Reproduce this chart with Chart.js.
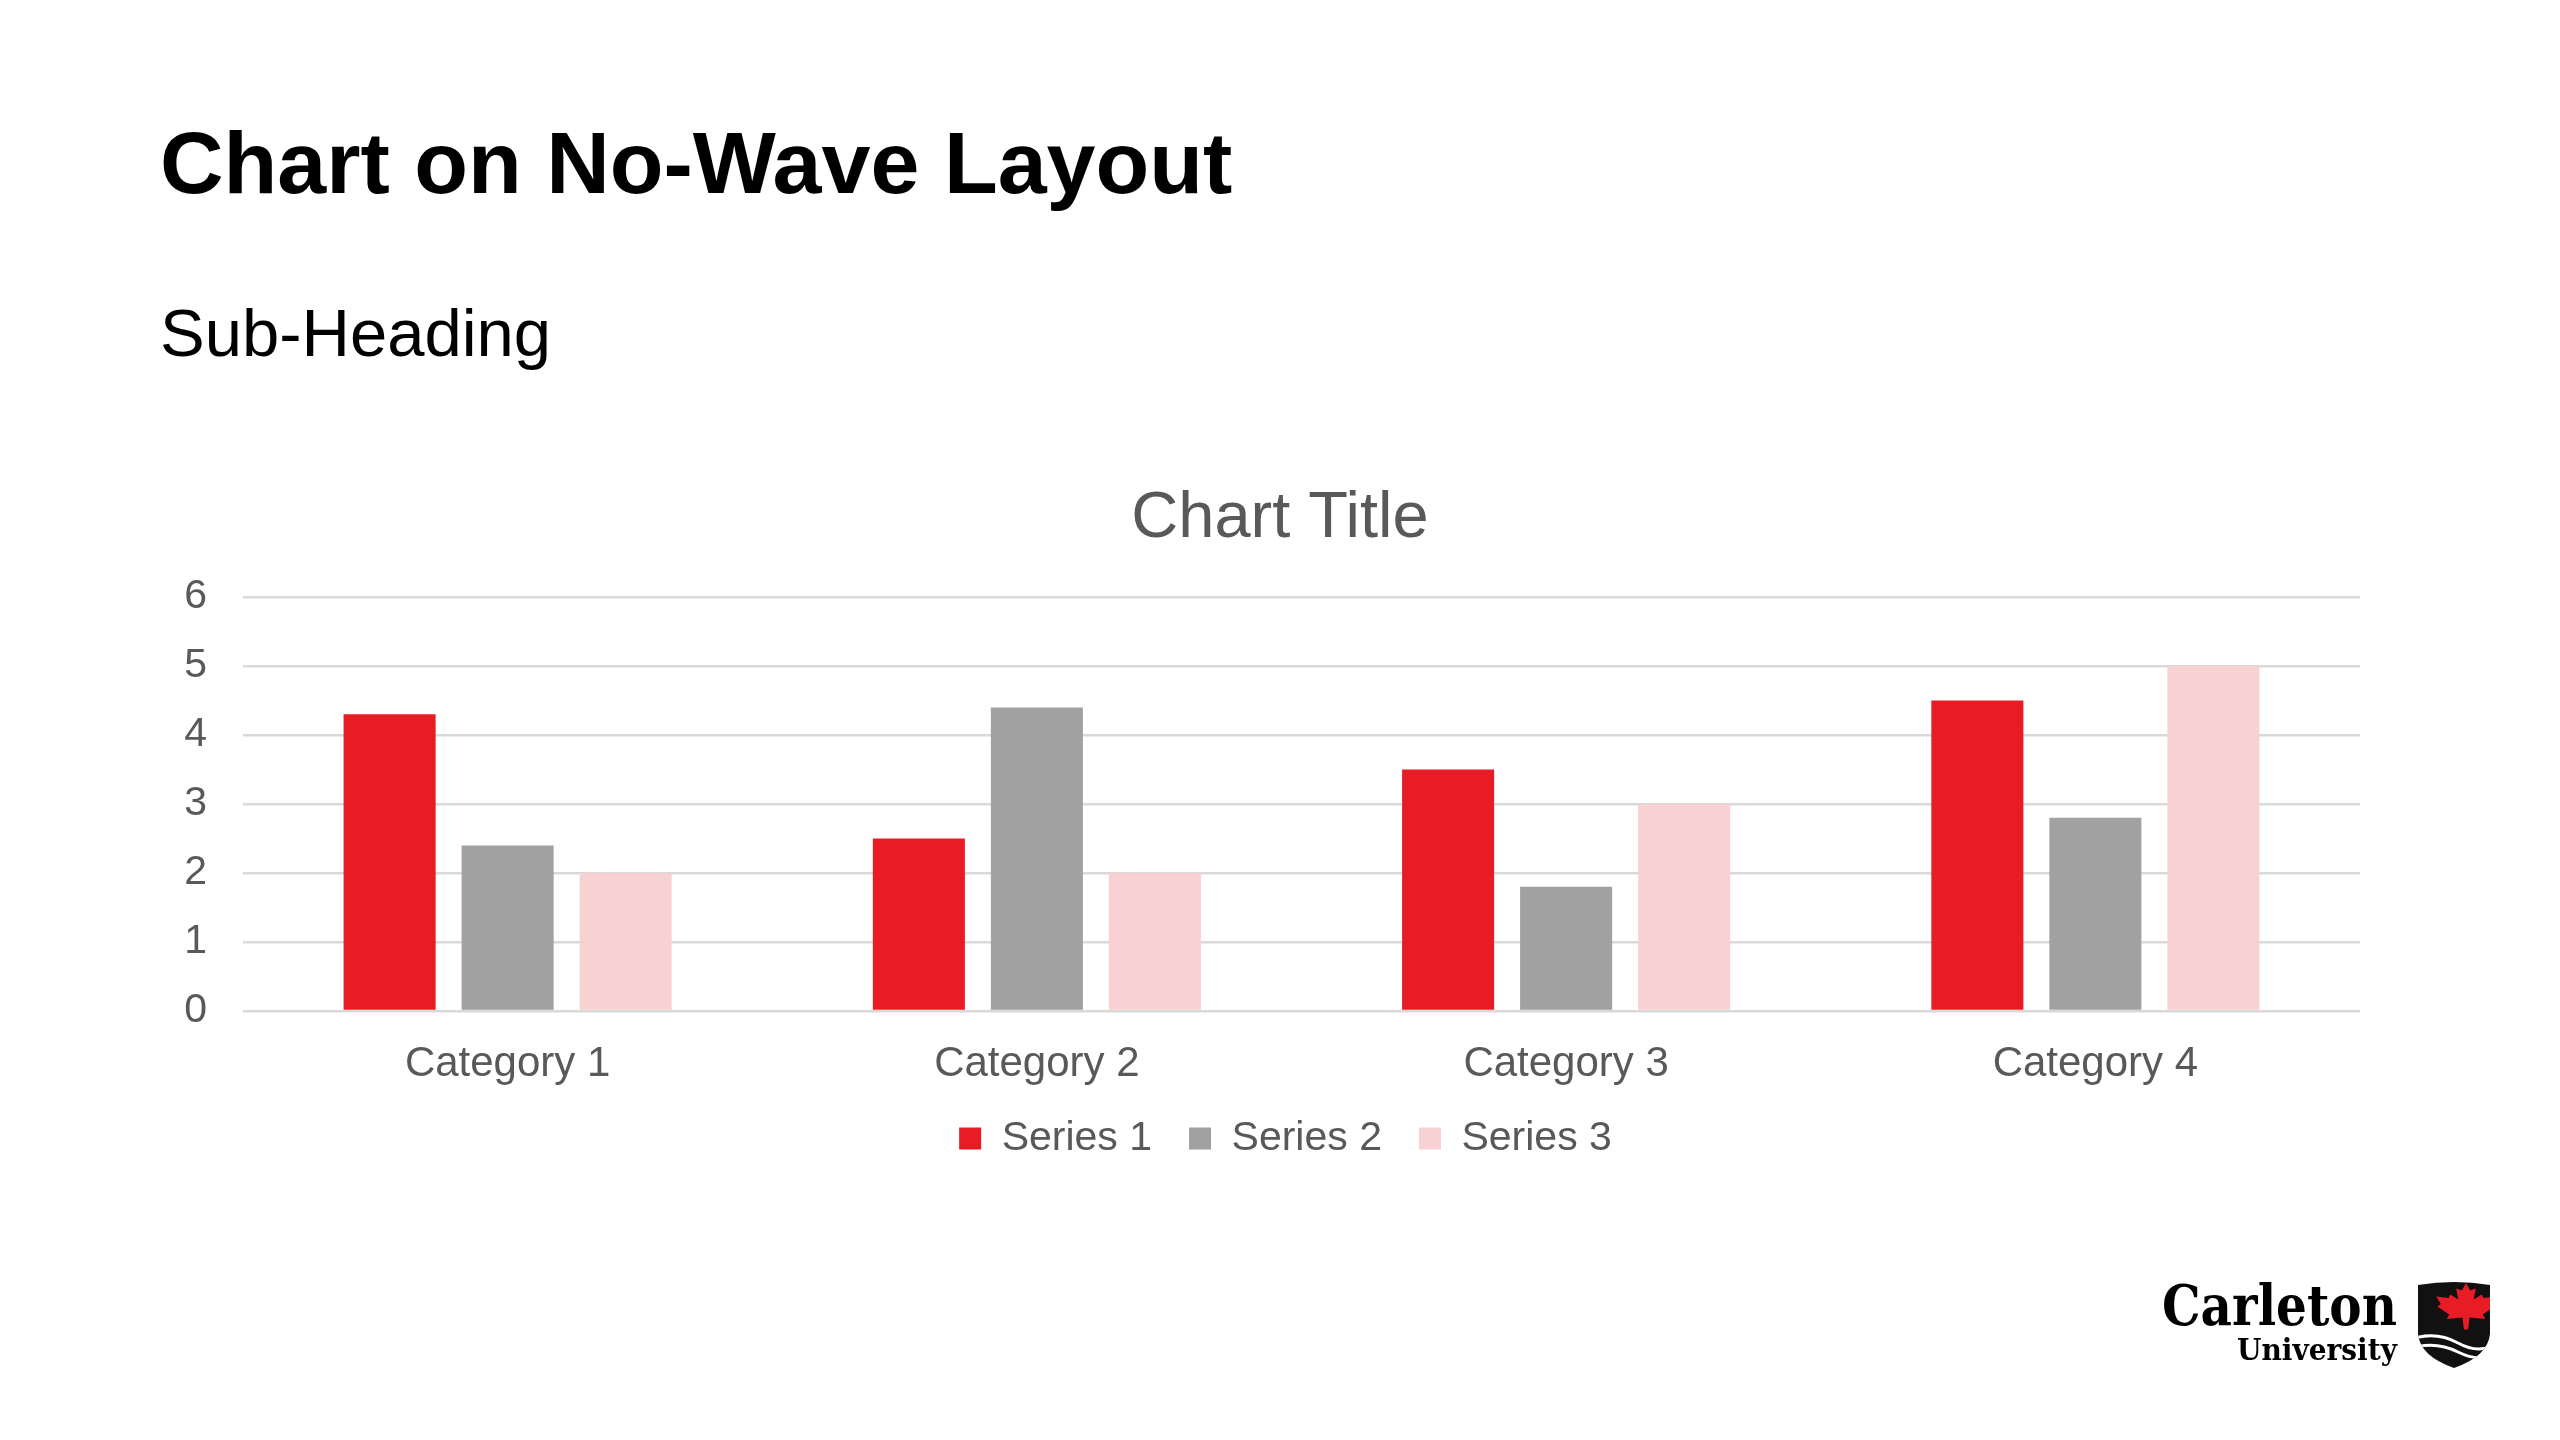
<!DOCTYPE html>
<html>
<head>
<meta charset="utf-8">
<script src="https://cdn.jsdelivr.net/npm/chart.js@4.4.1/dist/chart.umd.min.js"></script>
<style>
  html, body { margin: 0; padding: 0; background: #fff; }
  body { width: 2560px; height: 1440px; position: relative; overflow: hidden; font-family: "Liberation Sans", Arial, sans-serif; }
  .heading { position: absolute; left: 160px; top: 119px; font-size: 88px; line-height: 1; font-weight: bold; color: #000; white-space: nowrap; }
  .subheading { position: absolute; left: 160px; top: 299px; font-size: 67px; line-height: 1; color: #000; white-space: nowrap; }
  #chart { position: absolute; left: 0; top: 440px; }
  #logo { position: absolute; left: 0; top: 0; pointer-events: none; }
</style>
</head>
<body>
<div class="heading">Chart on No-Wave Layout</div>
<div class="subheading">Sub-Heading</div>
<canvas id="chart" width="2560" height="739"></canvas>

<svg id="logo" width="2560" height="1440" viewBox="0 0 2560 1440">
  <text x="2162" y="1325" font-family="DejaVu Serif" font-weight="bold" font-size="56" textLength="235" lengthAdjust="spacingAndGlyphs" fill="#000">Carleton</text>
  <text x="2237" y="1360" font-family="DejaVu Serif" font-weight="bold" font-size="29" textLength="160" lengthAdjust="spacingAndGlyphs" fill="#000">University</text>
  <defs>
    <clipPath id="shieldClip">
      <path d="M2418,1285 Q2454,1279 2490,1285 L2490,1334 Q2488,1356 2454,1368 Q2420,1356 2418,1334 Z"/>
    </clipPath>
  </defs>
  <path d="M2418,1285 Q2454,1279 2490,1285 L2490,1334 Q2488,1356 2454,1368 Q2420,1356 2418,1334 Z" fill="#111"/>
  <g clip-path="url(#shieldClip)">
    <polygon fill="#e81c24" transform="translate(2466,1313) scale(35,30)"
      points="0,-1 0.12,-0.75 0.28,-0.82 0.22,-0.45 0.45,-0.62 0.5,-0.5 0.85,-0.55 0.72,-0.3 0.82,-0.22 0.48,0.05 0.55,0.2 0.1,0.15 0.06,0.55 -0.06,0.55 -0.1,0.15 -0.55,0.2 -0.48,0.05 -0.82,-0.22 -0.72,-0.3 -0.85,-0.55 -0.5,-0.5 -0.45,-0.62 -0.22,-0.45 -0.28,-0.82 -0.12,-0.75"/>
    <path d="M2412,1339 Q2436,1331 2458,1343 T2496,1343" stroke="#fff" stroke-width="3" fill="none"/>
    <path d="M2412,1348 Q2436,1341 2458,1352 T2496,1353" stroke="#fff" stroke-width="3" fill="none"/>
  </g>
</svg>

<script>
// chart values
const categories = ["Category 1", "Category 2", "Category 3", "Category 4"];
const seriesNames = ["Series 1", "Series 2", "Series 3"];
const series1 = [4.3, 2.5, 3.5, 4.5];
const series2 = [2.4, 4.4, 1.8, 2.8];
const series3 = [2, 2, 3, 5];
const yTicks = [0, 1, 2, 3, 4, 5, 6];

const colors = ["#e81c24", "#a1a1a1", "#f8d1d2"];
const textColor = "#595959";
const gridColor = "#d9d9d9";

Chart.defaults.font.family = '"Liberation Sans", Arial, sans-serif';
Chart.defaults.color = textColor;

// small shifts of the title and legend boxes after layout
const boxNudge = {
  id: "boxNudge",
  afterLayout(chart) {
    const lg = chart.legend;
    if (lg) {
      lg.top -= 10;
      lg.bottom -= 10;
      lg.left -= 16;
      lg.right -= 16;
    }
    const tb = chart.titleBlock;
    if (tb) {
      tb.left += 10;
      tb.right += 10;
    }
  },
};

const ctx = document.getElementById("chart").getContext("2d");

new Chart(ctx, {
  type: "bar",
  data: {
    labels: categories,
    datasets: [series1, series2, series3].map((vals, i) => ({
      label: seriesNames[i],
      data: vals,
      backgroundColor: colors[i],
      borderWidth: 0,
      categoryPercentage: 0.669,
      barPercentage: 0.78,
    })),
  },
  plugins: [boxNudge],
  options: {
    responsive: false,
    animation: false,
    devicePixelRatio: 1,
    layout: {
      padding: { left: 180, right: 200, top: 0, bottom: 0 },
    },
    plugins: {
      title: {
        display: true,
        text: "Chart Title",
        color: textColor,
        font: { size: 65, weight: "normal" },
        padding: { top: 40, bottom: 39 },
      },
      legend: {
        position: "bottom",
        fullSize: false,
        labels: {
          color: textColor,
          font: { size: 41 },
          boxWidth: 22,
          boxHeight: 22,
          padding: 37,
        },
      },
      tooltip: { enabled: false },
    },
    scales: {
      x: {
        afterFit: (scale) => { scale.height = 80; },
        grid: { display: false },
        border: { display: false },
        ticks: { font: { size: 42 }, color: textColor, padding: 20 },
      },
      y: {
        min: yTicks[0],
        max: yTicks[yTicks.length - 1],
        afterFit: (scale) => { scale.width = 63; },
        afterBuildTicks: (scale) => { scale.ticks = yTicks.map((v) => ({ value: v })); },
        grid: { color: gridColor, lineWidth: 2.5, drawTicks: false },
        border: { display: false },
        ticks: { font: { size: 41 }, color: textColor, padding: 36 },
      },
    },
  },
});
</script>
</body>
</html>
